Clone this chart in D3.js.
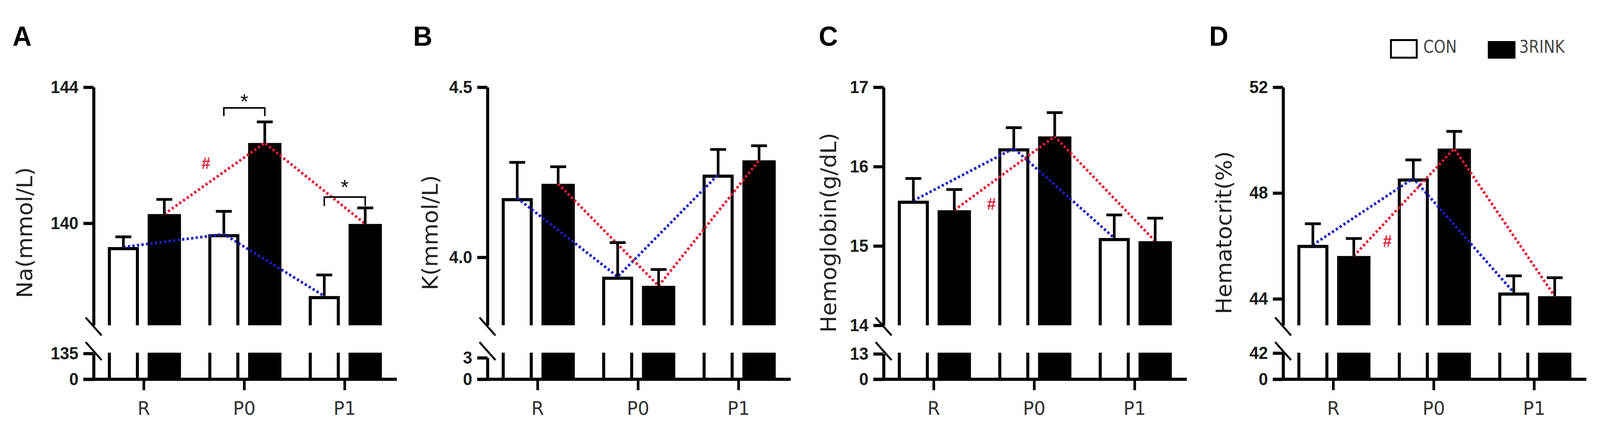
<!DOCTYPE html>
<html>
<head>
<meta charset="utf-8">
<script src="https://cdn.jsdelivr.net/npm/d3@7"></script>
<style>
  html, body { margin: 0; padding: 0; background: #fff; overflow: hidden; }
  #chart svg { display: block; width: 100vw; height: 100vh; }
</style>
</head>
<body>
<div id="chart"></div>
<script>
// --------------------------------------
//  Data
// --------------------------------------

const times = ["R", "P0", "P1"];
const groups = ["CON", "3RINK"];

// A: Na
const naCon = [139.30, 139.68, 137.86];
const naConErr = [0.30, 0.67, 0.62];
const naRink = [140.27, 142.36, 139.98];
const naRinkErr = [0.43, 0.62, 0.47];
const naTicks = [140, 144];
const naLowTicks = [0, 135];

// B: K
const kCon = [4.174, 3.943, 4.243];
const kConErr = [0.105, 0.100, 0.074];
const kRink = [4.216, 3.916, 4.285];
const kRinkErr = [0.050, 0.048, 0.043];
const kTicks = [4.0, 4.5];
const kLowTicks = [0, 3];

// C: Hemoglobin
const hbCon = [15.57, 16.23, 15.10];
const hbConErr = [0.28, 0.26, 0.29];
const hbRink = [15.45, 16.38, 15.06];
const hbRinkErr = [0.26, 0.30, 0.29];
const hbTicks = [14, 15, 16, 17];
const hbLowTicks = [0, 13];

// D: Hematocrit
const hctCon = [46.04, 48.55, 44.24];
const hctConErr = [0.80, 0.70, 0.63];
const hctRink = [45.62, 49.68, 44.10];
const hctRinkErr = [0.66, 0.65, 0.70];
const hctTicks = [44, 48, 52];
const hctLowTicks = [0, 42];

// significance marks (value units)
const naStars = [
  {time: "P0", bracket: 143.39, leg: 143.15, star: 143.72},
  {time: "P1", bracket: 140.77, leg: 140.51, star: 141.20}
];
const naHash = [{from: 0, t: 0.415, value: 141.77}];
const hbHash = [{from: 0, t: 0.37, value: 15.53}];
const hctHash = [{from: 0, t: 0.334, value: 46.19}];

// --------------------------------------
//  Canvas
// --------------------------------------

const width = 4221;
const height = 1110;
const upTop = 223, upBottom = 832, lowTop = 902, base = 970;
const step = 265;
const blue = "#1e1ec0";
const red = "#e01c36";

const svg = d3.select("#chart")
  .append("svg")
    .attr("viewBox", `0 0 ${width} ${height}`)
    .attr("preserveAspectRatio", "none");

const panels = [
  {id: "A", ax: 247, labelX: 33, title: "Na(mmol/L)", titleDx: -163,
   domain: [137, 144], ticks: naTicks, lowTicks: naLowTicks, lowY: 904, fmt: d3.format("d"),
   con: naCon, conErr: naConErr, rink: naRink, rinkErr: naRinkErr, stars: naStars, hash: naHash},
  {id: "B", ax: 1286, labelX: 1090, title: "K(mmol/L)", titleDx: -132,
   domain: [3.8, 4.5], ticks: kTicks, lowTicks: kLowTicks, lowY: 915, fmt: d3.format(".1f"),
   con: kCon, conErr: kConErr, rink: kRink, rinkErr: kRinkErr, stars: [], hash: []},
  {id: "C", ax: 2331, labelX: 2160, title: "Hemoglobin(g/dL)", titleDx: -126,
   domain: [14, 17], ticks: hbTicks, lowTicks: hbLowTicks, lowY: 905, fmt: d3.format("d"),
   con: hbCon, conErr: hbConErr, rink: hbRink, rinkErr: hbRinkErr, stars: [], hash: hbHash},
  {id: "D", ax: 3385, labelX: 3190, title: "Hematocrit(%)", titleDx: -137,
   domain: [43, 52], ticks: hctTicks, lowTicks: hctLowTicks, lowY: 903, fmt: d3.format("d"),
   con: hctCon, conErr: hctConErr, rink: hctRink, rinkErr: hctRinkErr, stars: [], hash: hctHash}
];

// --------------------------------------
//  Panels
// --------------------------------------

function styleAxis(sel) {
  sel.select(".domain").attr("stroke", "#000").attr("stroke-width", 8);
  sel.selectAll(".tick line").attr("stroke", "#000").attr("stroke-width", 8);
  sel.selectAll(".tick text")
    .attr("fill", "#1a1a1a")
    .style("font-family", "'Liberation Sans', Arial, sans-serif")
    .style("font-weight", "bold")
    .style("font-size", "44px");
}

panels.forEach(p => {
  const g = svg.append("g").attr("transform", `translate(${p.ax},0)`);

  const x = d3.scaleBand().domain(times).range([0, step * 3]);
  const xs = d3.scaleBand().domain(groups).range([0, x.bandwidth()])
    .paddingInner(0.26).paddingOuter(0.357);
  const yUp = d3.scaleLinear().domain(p.domain).range([upBottom, upTop]);
  const yLow = d3.scaleLinear().domain(d3.extent(p.lowTicks)).range([base, p.lowY]);

  const cx = (t, grp) => x(t) + xs(grp) + xs.bandwidth() / 2;

  const rows = [];
  times.forEach((t, j) => {
    rows.push({time: t, group: "CON", v: p.con[j], err: p.conErr[j]});
    rows.push({time: t, group: "3RINK", v: p.rink[j], err: p.rinkErr[j]});
  });

  // clip regions for the broken axis
  const defs = svg.append("defs");
  defs.append("clipPath").attr("id", `up-${p.id}`)
    .append("rect").attr("x", -60).attr("y", 0).attr("width", 900).attr("height", upBottom);
  defs.append("clipPath").attr("id", `low-${p.id}`)
    .append("rect").attr("x", -60).attr("y", lowTop).attr("width", 900).attr("height", base - lowTop);

  const inset = d => d.group === "CON" ? 3 : 0;

  // upper bars
  g.append("g").attr("clip-path", `url(#up-${p.id})`)
    .selectAll("rect")
    .data(rows)
    .join("rect")
      .attr("x", d => x(d.time) + xs(d.group) + inset(d))
      .attr("y", d => yUp(d.v) + 4)
      .attr("width", d => xs.bandwidth() - 2 * inset(d))
      .attr("height", d => upBottom + 20 - yUp(d.v))
      .attr("fill", d => d.group === "CON" ? "#fff" : "#000")
      .attr("stroke", "#000")
      .attr("stroke-width", 8);

  // lower bars
  g.append("g").attr("clip-path", `url(#low-${p.id})`)
    .selectAll("rect")
    .data(rows)
    .join("rect")
      .attr("x", d => x(d.time) + xs(d.group) + inset(d))
      .attr("y", lowTop - 20)
      .attr("width", d => xs.bandwidth() - 2 * inset(d))
      .attr("height", yLow(p.lowTicks[0]) - lowTop + 20)
      .attr("fill", d => d.group === "CON" ? "#fff" : "#000")
      .attr("stroke", "#000")
      .attr("stroke-width", 8);

  // dotted trend lines
  const line = d3.line().x(d => cx(d.time, d.group)).y(d => yUp(d.v));
  [["CON", blue], ["3RINK", red]].forEach(([grp, col]) => {
    g.append("path")
      .datum(rows.filter(d => d.group === grp))
      .attr("d", line)
      .attr("fill", "none")
      .attr("stroke", col)
      .attr("stroke-width", 7)
      .attr("stroke-dasharray", "6 6");
  });

  // error bars
  const eb = g.append("g").attr("stroke", "#000").attr("stroke-width", 7);
  eb.selectAll(".ev")
    .data(rows)
    .join("line")
      .attr("class", "ev")
      .attr("x1", d => cx(d.time, d.group))
      .attr("x2", d => cx(d.time, d.group))
      .attr("y1", d => yUp(d.v))
      .attr("y2", d => yUp(d.v + d.err));
  eb.selectAll(".ec")
    .data(rows)
    .join("line")
      .attr("class", "ec")
      .attr("x1", d => cx(d.time, d.group) - 21)
      .attr("x2", d => cx(d.time, d.group) + 21)
      .attr("y1", d => yUp(d.v + d.err))
      .attr("y2", d => yUp(d.v + d.err));

  // y axes (upper and lower segment)
  g.append("g")
    .call(d3.axisLeft(yUp).tickValues(p.ticks).tickFormat(p.fmt)
      .tickSize(27).tickSizeOuter(0).tickPadding(13))
    .call(styleAxis);
  g.append("g")
    .call(d3.axisLeft(yLow).tickValues(p.lowTicks).tickFormat(d3.format("d"))
      .tickSize(27).tickSizeOuter(0).tickPadding(13))
    .call(styleAxis);

  // break marks
  [upBottom + 3, lowTop - 4].forEach(yy => {
    g.append("line")
      .attr("x1", -21).attr("y1", yy - 23)
      .attr("x2", 21).attr("y2", yy + 23)
      .attr("stroke", "#000").attr("stroke-width", 5);
  });

  // x axis
  g.append("line")
    .attr("x1", -27).attr("x2", x.range()[1] + 5)
    .attr("y1", base).attr("y2", base)
    .attr("stroke", "#000").attr("stroke-width", 8);
  const xa = g.append("g")
    .attr("transform", `translate(0,${base})`)
    .call(d3.axisBottom(x).tickSize(28).tickSizeOuter(0).tickPadding(29));
  xa.select(".domain").remove();
  xa.selectAll(".tick line").attr("stroke", "#000").attr("stroke-width", 7);
  xa.selectAll(".tick text")
    .attr("fill", "#333")
    .style("font-family", "'DejaVu Sans', sans-serif")
    .style("font-size", "48px");

  // y title
  g.append("text")
    .attr("transform", `translate(${p.titleDx},595) rotate(-90)`)
    .attr("text-anchor", "middle")
    .attr("fill", "#222")
    .style("font-family", "'DejaVu Sans', sans-serif")
    .style("font-size", "57px")
    .text(p.title);

  // significance brackets
  p.stars.forEach(s => {
    const x1 = cx(s.time, "CON"), x2 = cx(s.time, "3RINK");
    g.append("path")
      .attr("d", `M${x1},${yUp(s.leg)}V${yUp(s.bracket)}H${x2}V${yUp(s.leg)}`)
      .attr("fill", "none")
      .attr("stroke", "#000")
      .attr("stroke-width", 4);
    g.append("text")
      .attr("x", (x1 + x2) / 2)
      .attr("y", yUp(s.star) + 0.57 * 54)
      .attr("text-anchor", "middle")
      .attr("fill", "#111")
      .style("font-family", "'Liberation Sans', Arial, sans-serif")
      .style("font-size", "54px")
      .text("*");
  });

  p.hash.forEach(h => {
    const xa0 = cx(times[h.from], "3RINK"), xa1 = cx(times[h.from + 1], "3RINK");
    g.append("text")
      .attr("x", xa0 + h.t * (xa1 - xa0))
      .attr("y", yUp(h.value) + 0.35 * 42)
      .attr("text-anchor", "middle")
      .attr("fill", red)
      .style("font-family", "'Liberation Sans', Arial, sans-serif")
      .style("font-weight", "bold")
      .style("font-size", "42px")
      .text("#");
  });

  // panel letter
  svg.append("text")
    .attr("x", p.labelX)
    .attr("y", 117)
    .attr("fill", "#000")
    .style("font-family", "'Liberation Sans', Arial, sans-serif")
    .style("font-weight", "bold")
    .style("font-size", "70px")
    .text(p.id);
});

// --------------------------------------
//  Legend
// --------------------------------------

const legend = svg.append("g").attr("transform", "translate(3667,100)");
const legendX = d3.scaleOrdinal().domain(groups).range([0, 258]);

legend.selectAll("rect")
  .data(groups)
  .join("rect")
    .attr("x", d => legendX(d) + (d === "CON" ? 2.5 : 0))
    .attr("y", d => d === "CON" ? 2.5 : 5)
    .attr("width", d => d === "CON" ? 68 : 73)
    .attr("height", 45)
    .attr("fill", d => d === "CON" ? "#fff" : "#000")
    .attr("stroke", d => d === "CON" ? "#000" : "none")
    .attr("stroke-width", 5);

legend.selectAll("text")
  .data(groups)
  .join("text")
    .attr("x", d => legendX(d) + 88 - (d === "CON" ? 0 : 5))
    .attr("y", 35)
    .attr("fill", "#444")
    .style("font-family", "'DejaVu Sans Condensed', 'DejaVu Sans', sans-serif")
    .style("font-stretch", "condensed")
    .style("font-size", "44px")
    .text(d => d);
</script>
</body>
</html>
